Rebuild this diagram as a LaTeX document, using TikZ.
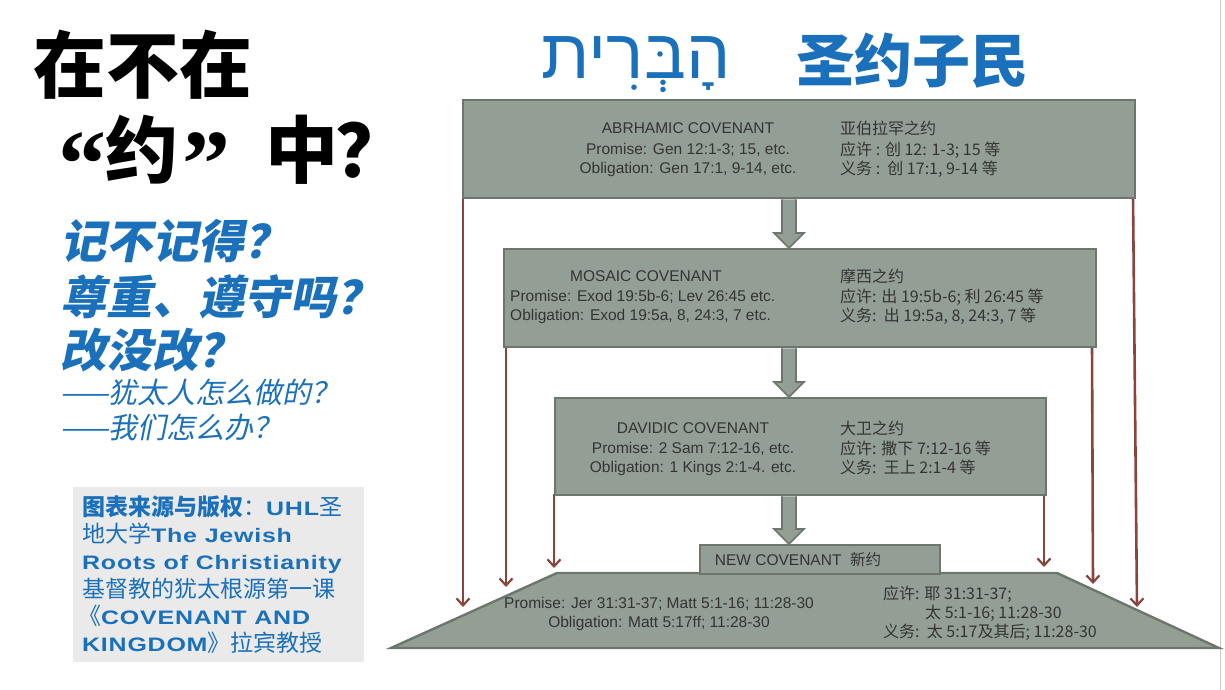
\documentclass[tikz,border=0pt]{standalone}
\usepackage{fontspec}
\usetikzlibrary{arrows.meta,calc}
\TeXXeTstate=1
\setmainfont{Liberation Sans}
\newfontfamily\cjk{Noto Sans CJK SC}
\newfontfamily\cjkslant{Noto Sans CJK SC}[FakeSlant=0.2]
\newfontfamily\hebfont[Script=Hebrew]{Liberation Sans}
\newfontfamily\latwide{Liberation Sans}[FakeStretch=1.28,LetterSpace=4]
\newfontfamily\quotefont{Liberation Serif}

\definecolor{boxfill}{RGB}{147,159,148}
\definecolor{boxedge}{RGB}{108,118,109}
\definecolor{linkred}{RGB}{138,68,62}
\definecolor{titleblue}{RGB}{26,112,187}
\definecolor{boxtext}{RGB}{52,52,52}
\definecolor{notegrey}{RGB}{234,234,234}
\definecolor{edgegrey}{RGB}{200,200,200}

\tikzset{
  covbox/.style={draw=boxedge, fill=boxfill, line width=2.4pt, inner sep=0pt, anchor=north west},
  blockarr/.style={draw=boxedge, fill=boxfill, line width=1.6pt, line join=miter},
  bypass/.style={color=linkred, line width=2.6pt, -{Straight Barb[length=7pt,width=13pt,line width=2.2pt]}},
  entxt/.style={text=boxtext, font=\fontsize{15.5}{18}\selectfont, inner sep=0pt, anchor=base},
  zhtxt/.style={text=boxtext, font=\cjk\fontsize{16}{19}\selectfont, inner sep=0pt, anchor=base west},
  askbig/.style={text=titleblue, font=\cjkslant\bfseries\fontsize{46}{52}\selectfont, inner sep=0pt, anchor=base west},
  asksmall/.style={text=titleblue, font=\cjkslant\fontsize{29}{33}\selectfont, inner sep=0pt, anchor=base west},
  notetxt/.style={text=titleblue, font=\cjk\fontsize{23}{27}\selectfont, inner sep=0pt, anchor=base west},
  headglyph/.style={text=black, font=\cjk\bfseries\fontsize{73}{80}\selectfont, inner sep=0pt, anchor=base},
  headquote/.style={text=black, font=\quotefont\bfseries\fontsize{96}{100}\selectfont, inner sep=0pt, anchor=base},
}
\newcommand\blockarrow[2]{%
  \draw[blockarr] ($(#1)+(-7,0)$) -- ($(#2)+(-7,-15)$) -- ($(#2)+(-15,-15)$) -- (#2)
    -- ($(#2)+(15,-15)$) -- ($(#2)+(7,-15)$) -- ($(#1)+(7,0)$);}
\newcommand\latb[1]{{\latwide\bfseries\fontsize{19.5}{27}\selectfont #1}}

\begin{document}
\begin{tikzpicture}[x=1pt,y=-1pt]
\useasboundingbox (0,0) rectangle (1225,690);
\fill[white] (0,0) rectangle (1225,690);
\draw[edgegrey, line width=1pt] (1220,0) -- (1220,690);

% ---- heading on the left ----
\node[headglyph, anchor=base west] (h1) at (33,93) {在不在};
\node[headquote] (hq1) at (82,196) {“};
\node[headglyph] (hyue) at (142,177) {约};
\node[headquote] (hq2) at (206,196) {”};
\node[headglyph] (hzhong) at (302,177) {中};
\node[headglyph] (hask) at (372,177) {？};

% ---- heading on top ----
\node[text=titleblue, font=\hebfont\fontsize{70}{76}\selectfont, inner sep=0pt, anchor=base] (heb) at (636,79) {\beginR הָבְּרִית\endR};
\node[text=titleblue, font=\cjk\bfseries\fontsize{58}{64}\selectfont, inner sep=0pt, anchor=base] (people) at (912,83) {圣约子民};

% ---- questions ----
\node[askbig] (q1) at (60,258) {记不记得？};
\node[askbig] (q2) at (60,314) {尊重、遵守吗？};
\node[askbig] (q3) at (60,367) {改没改？};
\node[asksmall] (q4) at (60,403) {——犹太人怎么做的？};
\node[asksmall] (q5) at (60,438) {——我们怎么办？};

% ---- source note ----
\node[fill=notegrey, inner sep=0pt, minimum width=291pt, minimum height=175pt, anchor=north west] (note) at (73,487) {};
\node[notetxt] (n1) at (82,515) {{\bfseries 图表来源与版权}：\latb{UHL}圣};
\node[notetxt] (n2) at (82,542) {地大学\latb{The Jewish}};
\node[notetxt] (n3) at (82,569) {\latb{Roots of Christianity}};
\node[notetxt] (n4) at (82,597) {基督教的犹太根源第一课};
\node[notetxt] (n5) at (78,624) {《\latb{COVENANT AND}};
\node[notetxt] (n6) at (82,651) {\latb{KINGDOM}》拉宾教授};

% ---- red links that bypass the chain ----
\coordinate (abrL) at (463,197);
\coordinate (abrR) at (1133,197);
\coordinate (mosL) at (506,346);
\coordinate (mosR) at (1092,346);
\coordinate (davL) at (554,494);
\coordinate (davR) at (1044,494);
\coordinate (e1) at (463,607);
\coordinate (e2) at (506,587);
\coordinate (e3) at (554,568);
\coordinate (e4) at (1044,567);
\coordinate (e5) at (1093,584);
\coordinate (e6) at (1137,607);
\draw[bypass] (abrL) -- (e1);
\draw[bypass] (abrR) -- (e6);
\draw[bypass] (mosL) -- (e2);
\draw[bypass] (mosR) -- (e5);
\draw[bypass] (davL) -- (e3);
\draw[bypass] (davR) -- (e4);

% ---- covenant boxes ----
\coordinate (ax) at (789,0);
\node[covbox, minimum width=672pt, minimum height=98pt] (abr) at (462,99) {};
\node[covbox, minimum width=592pt, minimum height=98pt] (mos) at (503,248) {};
\node[covbox, minimum width=491pt, minimum height=97pt] (dav) at (554,397) {};

% new covenant base
\coordinate (tl) at (557,573);
\coordinate (tr) at (1057,573);
\coordinate (br) at (1219,648);
\coordinate (bl) at (391,648);
\draw[draw=boxedge, fill=boxfill, line width=2.4pt, line join=miter] (tl) -- (tr) -- (br) -- (bl) -- cycle;
\node[covbox, minimum width=240pt, minimum height=29pt] (newc) at (699,544) {};

% ---- block arrows down the chain ----
\blockarrow{abr.south -| ax}{mos.north -| ax}
\blockarrow{mos.south -| ax}{dav.north -| ax}
\blockarrow{dav.south -| ax}{newc.north -| ax}

% ---- box texts ----
\node[entxt] (a1) at (688,134) {ABRHAMIC COVENANT};
\node[entxt] (a2) at (688,154) {Promise: Gen 12:1-3; 15, etc.};
\node[entxt] (a3) at (688,173) {Obligation: Gen 17:1, 9-14, etc.};
\node[zhtxt] (a4) at (840,135) {亚伯拉罕之约};
\node[zhtxt] (a5) at (840,155) {应许 : 创 12: 1-3; 15 等};
\node[zhtxt] (a6) at (840,174) {义务 :\ \ 创 17:1, 9-14 等};

\node[entxt] (m1) at (646,281) {MOSAIC COVENANT};
\node[entxt, anchor=base west] (m2) at (510,301) {Promise: Exod 19:5b-6; Lev 26:45 etc.};
\node[entxt, anchor=base west] (m3) at (510,320) {Obligation: Exod 19:5a, 8, 24:3, 7 etc.};
\node[zhtxt] (m4) at (840,282) {摩西之约};
\node[zhtxt] (m5) at (840,302) {应许: 出 19:5b-6; 利 26:45 等};
\node[zhtxt] (m6) at (840,321) {义务:\ \ 出 19:5a, 8, 24:3, 7 等};

\node[entxt] (d1) at (693,433) {DAVIDIC COVENANT};
\node[entxt] (d2) at (693,453) {Promise: 2 Sam 7:12-16, etc.};
\node[entxt] (d3) at (693,472) {Obligation: 1 Kings 2:1-4. etc.};
\node[zhtxt] (d4) at (840,434) {大卫之约};
\node[zhtxt] (d5) at (840,454) {应许: 撒下 7:12-16 等};
\node[zhtxt] (d6) at (840,473) {义务:\ \ 王上 2:1-4 等};

\node[entxt] (nc) at (798,565) {NEW COVENANT\ \ {\cjk 新约}};
\node[entxt] (n7) at (659,608) {Promise: Jer 31:31-37; Matt 5:1-16; 11:28-30};
\node[entxt] (n8) at (659,627) {Obligation: Matt 5:17ff; 11:28-30};
\node[zhtxt] (n9) at (883,599) {应许: 耶 31:31-37;};
\node[zhtxt] (n10) at (925,618) {太 5:1-16; 11:28-30};
\node[zhtxt] (n11) at (883,637) {义务:\ \ 太 5:17及其后; 11:28-30};
\end{tikzpicture}
\end{document}
